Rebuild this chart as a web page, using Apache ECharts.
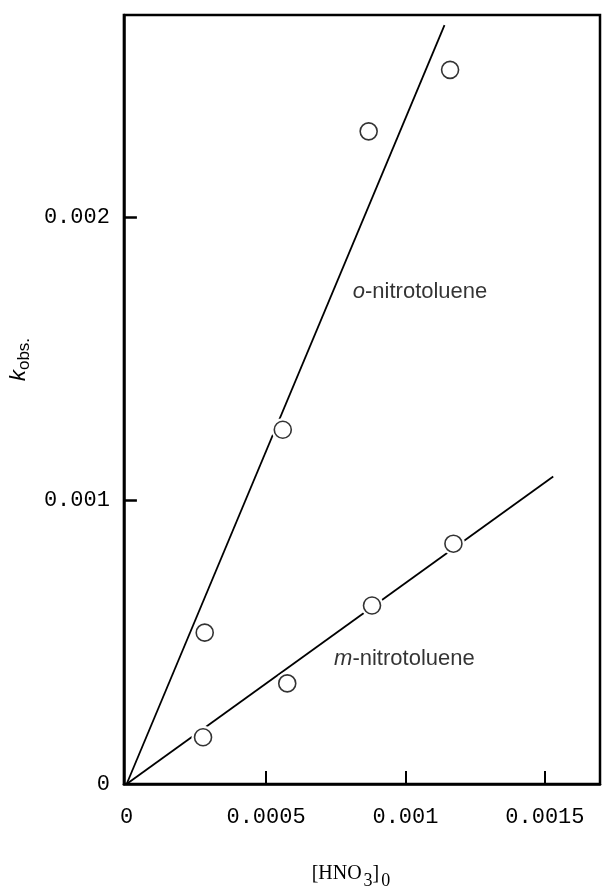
<!DOCTYPE html>
<html><head><meta charset="utf-8">
<script src="https://cdn.jsdelivr.net/npm/echarts@6/dist/echarts.min.js"></script>
<style>html,body{margin:0;padding:0;background:#fff}#c{width:603px;height:895px}</style>
</head><body><div id="c"></div>
<script>
// ---- data ----
const xTickValues = [0.0005, 0.001, 0.0015];
const xTickLabels = [0, 0.0005, 0.001, 0.0015];
const yTickValues = [0.001, 0.002];
const yTickLabels = [0, 0.001, 0.002];
const oNitroX = [0.00028, 0.00056, 0.000868, 0.00116];
const oNitroY = [0.000534, 0.00125, 0.002303, 0.00252];
const mNitroX = [0.000274, 0.000576, 0.00088, 0.001172];
const mNitroY = [0.000165, 0.000355, 0.00063, 0.000848];
const oFitX = [0, 0.00114];
const oFitY = [0, 0.002678];
const mFitX = [0, 0.00153];
const mFitY = [0, 0.001085];
const oLabelAt = [0.000811, 0.001735];
const mLabelAt = [0.000744, 0.00044];

const zip = (a, b) => a.map((v, i) => [v, b[i]]);
const mono = 'Liberation Mono';
const sans = 'Liberation Sans';
const serif = 'Liberation Serif';

const chart = echarts.init(document.getElementById('c'), null, {renderer: 'canvas'});
const option = {
  animation: false,
  backgroundColor: '#fff',
  grid: {left: 113, top: 15, right: 3, bottom: 108, show: true, borderColor: '#000', borderWidth: 2.5, containLabel: false},
  xAxis: {
    type: 'value', min: -0.0000098, max: 0.0016977,
    axisLine: {show: true, onZero: false, lineStyle: {color: '#000', width: 2.5}},
    axisTick: {show: true, inside: true, length: 13, customValues: xTickValues, lineStyle: {color: '#000', width: 2}},
    axisLabel: {show: true, customValues: xTickLabels, margin: 22, color: '#000', fontFamily: mono, fontSize: 22,
      formatter: v => String(v)},
    splitLine: {show: false},
    name: '{a|[HNO}{s|3}{a|]}{s|0}',
    nameLocation: 'middle', nameGap: 80,
    nameTextStyle: {padding: [0, 22, 0, 0], rich: {
      a: {fontFamily: serif, fontSize: 20, color: '#000', verticalAlign: 'top'},
      s: {fontFamily: serif, fontSize: 18, color: '#000', verticalAlign: 'top', padding: [8, 0, 0, 2]}
    }}
  },
  yAxis: {
    type: 'value', min: 0, max: 0.0027135,
    axisLine: {show: true, onZero: false, lineStyle: {color: '#000', width: 2.5}},
    axisTick: {show: true, inside: true, length: 13, customValues: yTickValues, lineStyle: {color: '#000', width: 2.5}},
    axisLabel: {show: true, customValues: yTickLabels, margin: 14, color: '#000', fontFamily: mono, fontSize: 22,
      formatter: v => String(v)},
    splitLine: {show: false},
    name: '{k|k}{s|obs.}',
    nameLocation: 'middle', nameGap: 82, nameRotate: 90,
    nameTextStyle: {padding: [0, 0, 0, 80], rich: {
      k: {fontFamily: sans, fontStyle: 'italic', fontSize: 22, color: '#000', verticalAlign: 'top'},
      s: {fontFamily: sans, fontSize: 17, color: '#000', verticalAlign: 'top', padding: [8, 0, 0, 0]}
    }}
  },
  series: [
    {type: 'line', data: zip(oFitX, oFitY), showSymbol: false, symbol: 'none', z: 1,
      lineStyle: {color: '#000', width: 1.8}, silent: true},
    {type: 'line', data: zip(mFitX, mFitY), showSymbol: false, symbol: 'none', z: 1,
      lineStyle: {color: '#000', width: 1.8}, silent: true},
    {type: 'scatter', data: zip(oNitroX, oNitroY).concat(zip(mNitroX, mNitroY)), symbolSize: 23, z: 2,
      itemStyle: {color: '#fff', opacity: 1}, silent: true},
    {type: 'scatter', data: zip(oNitroX, oNitroY), symbolSize: 17, z: 3,
      itemStyle: {color: '#fff', borderColor: '#000', borderWidth: 1.6}},
    {type: 'scatter', data: zip(mNitroX, mNitroY), symbolSize: 17, z: 3,
      itemStyle: {color: '#fff', borderColor: '#000', borderWidth: 1.6}},
    {type: 'scatter', data: [oLabelAt], symbolSize: 0, z: 4, silent: true,
      label: {show: true, position: 'right', distance: 0, formatter: '{i|o}{n|-nitrotoluene}',
        rich: {i: {fontFamily: sans, fontStyle: 'italic', fontSize: 22, color: '#000'},
               n: {fontFamily: sans, fontSize: 22, color: '#000'}}}},
    {type: 'scatter', data: [mLabelAt], symbolSize: 0, z: 4, silent: true,
      label: {show: true, position: 'right', distance: 0, formatter: '{i|m}{n|-nitrotoluene}',
        rich: {i: {fontFamily: sans, fontStyle: 'italic', fontSize: 22, color: '#000'},
               n: {fontFamily: sans, fontSize: 22, color: '#000'}}}}
  ]
};
chart.setOption(option);
</script>
</body></html>
